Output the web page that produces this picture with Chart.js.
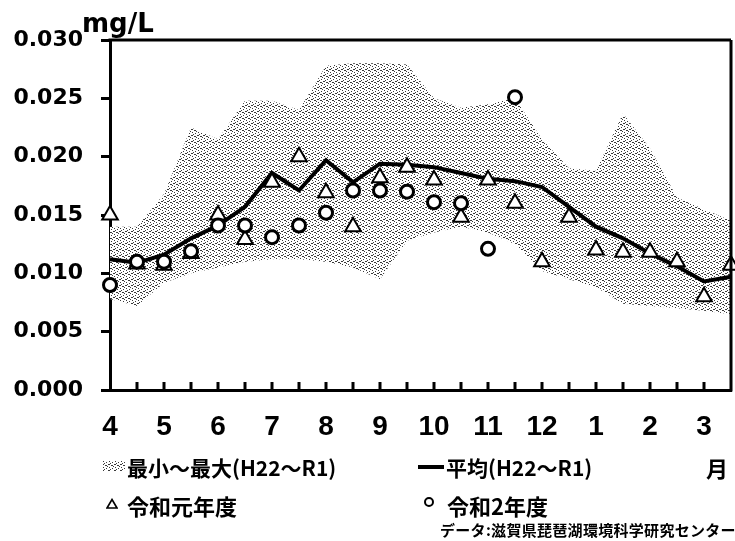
<!DOCTYPE html>
<html>
<head>
<meta charset="utf-8">
<script src="https://cdn.jsdelivr.net/npm/chart.js@4.4.1/dist/chart.umd.min.js"></script>
<style>
  html, body { margin: 0; padding: 0; background: #fff; }
  #wrap { position: relative; width: 735px; height: 541px; overflow: hidden; }
  #c { position: absolute; left: 0; top: 0; }
  .t { position: absolute; font-family: "Noto Sans CJK JP", sans-serif; font-weight: 700; color: #000; white-space: nowrap; line-height: 1; }
  .unit { position: absolute; font-family: "DejaVu Sans", sans-serif; font-weight: 700; font-size: 26px; line-height: 1; color: #000; }
</style>
</head>
<body>
<div id="wrap">
  <canvas id="c" width="735" height="541"></canvas>
  <div class="unit" style="left:82px; top:10px;">mg/L</div>
  <canvas id="sw" width="22" height="10" style="position:absolute; left:103px; top:461px;"></canvas>
  <div class="t" style="left:127px; top:457px; font-size:21px;">最小～最大(H22～R1)</div>
  <div style="position:absolute; left:418px; top:465px; width:26px; height:4px; background:#000;"></div>
  <div class="t" style="left:446px; top:457px; font-size:21px;">平均(H22～R1)</div>
  <div class="t" style="left:706px; top:456px; font-size:22px;">月</div>
  <svg style="position:absolute; left:106px; top:498px;" width="12" height="11"><polygon points="6,1.5 11,10 1,10" fill="#fff" stroke="#000" stroke-width="1.6"/></svg>
  <div class="t" style="left:127px; top:494px; font-size:22px;">令和元年度</div>
  <div style="position:absolute; left:424px; top:497px; width:6px; height:6px; border:2.5px solid #000; border-radius:50%; background:#fff;"></div>
  <div class="t" style="left:447px; top:494px; font-size:22px;">令和2年度</div>
  <div class="t" style="left:440px; top:522px; font-size:15px; letter-spacing:0.3px;">データ:滋賀県琵琶湖環境科学研究センター</div>
</div>
<script>
// ---- data (semi-monthly, April first half .. March second half) ----
const months = ['4','5','6','7','8','9','10','11','12','1','2','3'];
const rangeMax = [0.0140,0.0140,0.0168,0.0225,0.0215,0.0248,0.0248,0.0240,0.0278,0.0280,0.0280,0.0279,
                  0.0250,0.0242,0.0245,0.0250,0.0215,0.0190,0.0188,0.0237,0.0207,0.0165,0.0155,0.0145];
const rangeMin = [0.0078,0.0072,0.0092,0.0100,0.0105,0.0110,0.0112,0.0112,0.0110,0.0105,0.0095,0.0128,
                  0.0135,0.0140,0.0135,0.0125,0.0102,0.0095,0.0088,0.0074,0.0072,0.0070,0.0068,0.0065];
const average  = [0.0112,0.0109,0.0116,0.0130,0.0141,0.0157,0.0186,0.0171,0.0197,0.0178,0.0194,0.0193,
                  0.0191,0.0186,0.0181,0.0179,0.0174,0.0157,0.0140,0.0130,0.0117,0.0106,0.0093,0.0097];
const reiwa1   = [0.0150,0.0108,0.0107,0.0117,0.0150,0.0129,0.0178,0.0200,0.0169,0.0140,0.0182,0.0191,
                  0.0180,0.0148,0.0180,0.0160,0.0110,0.0148,0.0120,0.0118,0.0118,0.0110,0.0080,0.0107];
const reiwa2   = [0.0090,0.0110,0.0110,0.0119,0.0141,0.0141,0.0131,0.0141,0.0152,0.0171,0.0171,0.0170,
                  0.0161,0.0160,0.0121,0.0251,null,null,null,null,null,null,null,null];
const yTicks = [0, 0.005, 0.010, 0.015, 0.020, 0.025, 0.030];

const xLabels = average.map((_, i) => (i % 2 === 0 ? months[i / 2] : ''));

function makeStipple() {
  const c = document.createElement('canvas');
  c.width = 6; c.height = 6;
  const g = c.getContext('2d');
  g.fillStyle = '#ffffff'; g.fillRect(0, 0, 6, 6);
  g.fillStyle = '#3a3a3a';
  [[0,0],[3,1],[1,2],[5,3],[2,4],[4,5],[0,3],[3,4]].forEach(p => g.fillRect(p[0], p[1], 1, 1));
  return c;
}
const tile = makeStipple();
const ctx = document.getElementById('c').getContext('2d');
const pattern = ctx.createPattern(tile, 'repeat');
const sw = document.getElementById('sw').getContext('2d');
sw.fillStyle = sw.createPattern(tile, 'repeat');
sw.fillRect(0, 0, 22, 10);

const framePlugin = {
  id: 'frame',
  afterDatasetsDraw(chart) {
    const a = chart.chartArea, g = chart.ctx, xs = chart.scales.x;
    g.save();
    g.strokeStyle = '#000';
    g.lineWidth = 3;
    g.beginPath();
    g.moveTo(a.left - 1.5, a.top); g.lineTo(a.right, a.top);
    g.moveTo(a.right, a.top); g.lineTo(a.right, a.bottom + 1.5);
    for (let i = 1; i < average.length - 1; i++) {
      const px = Math.round(xs.getPixelForValue(i));
      g.moveTo(px, a.bottom); g.lineTo(px, a.bottom - 8);
    }
    g.stroke();
    g.restore();
  }
};

new Chart(ctx, {
  type: 'line',
  data: {
    labels: xLabels,
    datasets: [
      { label: '令和2年度', data: reiwa2, showLine: false, pointStyle: 'circle', pointRadius: 6.5,
        pointBorderWidth: 3, pointBackgroundColor: '#fff', pointBorderColor: '#000', clip: false },
      { label: '令和元年度', data: reiwa1, showLine: false, pointStyle: 'triangle', pointRadius: 9,
        pointBorderWidth: 2, pointBackgroundColor: '#fff', pointBorderColor: '#000', clip: false },
      { label: '平均(H22～R1)', data: average, borderColor: '#000', borderWidth: 4, pointRadius: 0,
        tension: 0, fill: false, clip: false },
      { label: '最大', data: rangeMax, borderWidth: 0, pointRadius: 0, backgroundColor: pattern, fill: '+1', tension: 0 },
      { label: '最小', data: rangeMin, borderWidth: 0, pointRadius: 0, fill: false, tension: 0 }
    ]
  },
  options: {
    responsive: false,
    animation: false,
    events: [],
    layout: { autoPadding: false, padding: { top: 40, right: 4, left: 0, bottom: 0 } },
    plugins: { legend: { display: false }, tooltip: { enabled: false } },
    scales: {
      x: {
        type: 'category',
        offset: false,
        grid: { display: true, drawOnChartArea: false, drawTicks: false },
        border: { display: true, color: '#000', width: 3 },
        ticks: { autoSkip: false, maxRotation: 0, color: '#000', padding: 20,
                 font: { family: '"Liberation Sans", Arial, sans-serif', size: 28, weight: 'bold' } },
        afterFit(s) { s.height = 151; s.paddingLeft = 0; s.paddingRight = 0; }
      },
      y: {
        min: 0, max: 0.030,
        afterBuildTicks(s) { s.ticks = yTicks.map(v => ({ value: v })); },
        grid: { drawOnChartArea: false, drawTicks: true, tickLength: 9, tickWidth: 3, tickColor: '#000' },
        border: { display: true, color: '#000', width: 3 },
        ticks: { color: '#000', padding: 18, callback: v => Number(v).toFixed(3),
                 font: { family: '"DejaVu Sans", sans-serif', size: 22, weight: 'bold' } },
        afterFit(s) { s.width = 110; s.paddingTop = 0; s.paddingBottom = 0; }
      }
    }
  },
  plugins: [framePlugin]
});
</script>
</body>
</html>
